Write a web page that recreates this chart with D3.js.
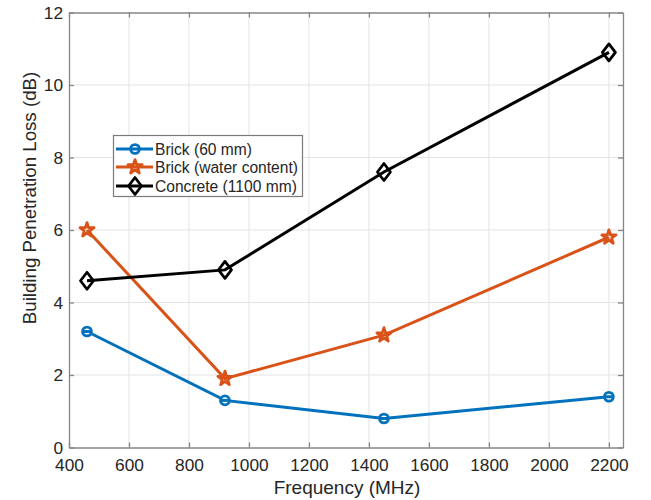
<!DOCTYPE html>
<html>
<head>
<meta charset="utf-8">
<script src="https://cdn.jsdelivr.net/npm/d3@7"></script>
<style>
  html, body { margin: 0; padding: 0; background: #fff; }
  svg { display: block; font-family: "Liberation Sans", Arial, sans-serif; }
</style>
</head>
<body>
<svg id="chart" width="651" height="500"></svg>
<script>
// Building penetration loss measured at four frequencies
const frequencies = [460, 920, 1450, 2200];
const brick60 = [3.2, 1.3, 0.8, 1.4];
const brickWater = [6.0, 1.9, 3.1, 5.8];
const concrete = [4.6, 4.9, 7.6, 10.9];
const seriesNames = ["Brick (60 mm)", "Brick (water content)", "Concrete (1100 mm)"];
const xTicks = [400, 600, 800, 1000, 1200, 1400, 1600, 1800, 2000, 2200];
const yTicks = [0, 2, 4, 6, 8, 10, 12];

const series = [
  { name: seriesNames[0], values: brick60, color: "#0072BD", marker: "circle" },
  { name: seriesNames[1], values: brickWater, color: "#D95319", marker: "star" },
  { name: seriesNames[2], values: concrete, color: "#000000", marker: "diamond" }
];

const svg = d3.select("#chart");
const plot = { left: 69, right: 623, top: 12.5, bottom: 447.5 };

const x = d3.scaleLinear().domain([400, 2247]).range([plot.left, plot.right]);
const y = d3.scaleLinear().domain([0, 12]).range([plot.bottom, plot.top]);

const axisColor = "#868686";
const textColor = "#262626";

// grid
const grid = svg.append("g");
grid.selectAll(".gx").data(xTicks.slice(1)).enter().append("line")
  .attr("x1", d => x(d)).attr("x2", d => x(d))
  .attr("y1", plot.top).attr("y2", plot.bottom)
  .attr("stroke", "#e3e3e3").attr("stroke-width", 1);
grid.selectAll(".gy").data(yTicks.slice(1, -1)).enter().append("line")
  .attr("x1", plot.left).attr("x2", plot.right)
  .attr("y1", d => y(d)).attr("y2", d => y(d))
  .attr("stroke", "#e3e3e3").attr("stroke-width", 1);

// axes (ticks point inward, box drawn on all four sides)
const fmt = d3.format("d");
const xAxis = d3.axisBottom(x).tickValues(xTicks).tickFormat(fmt).tickSizeInner(-5).tickSizeOuter(0).tickPadding(11);
const yAxis = d3.axisLeft(y).tickValues(yTicks).tickFormat(fmt).tickSizeInner(-5).tickSizeOuter(0).tickPadding(6);
const xTop = d3.axisTop(x).tickValues(xTicks).tickSizeInner(-5).tickSizeOuter(0).tickFormat("");
const yRight = d3.axisRight(y).tickValues(yTicks).tickSizeInner(-5).tickSizeOuter(0).tickFormat("");

function styleAxis(g) {
  g.select(".domain").attr("stroke", axisColor).attr("stroke-width", 1.3);
  g.selectAll(".tick line").attr("stroke", axisColor).attr("stroke-width", 1.3);
  g.selectAll(".tick text").attr("fill", textColor).style("font-size", "17.3px")
    .style("font-family", "Liberation Sans, Arial, sans-serif");
}

svg.append("g").attr("transform", `translate(0,${plot.bottom})`).call(xAxis).call(styleAxis);
svg.append("g").attr("transform", `translate(${plot.left},0)`).call(yAxis).call(styleAxis);
svg.append("g").attr("transform", `translate(0,${plot.top})`).call(xTop).call(styleAxis);
svg.append("g").attr("transform", `translate(${plot.right},0)`).call(yRight).call(styleAxis);

// axis labels
svg.append("text")
  .attr("x", 347).attr("y", 494)
  .attr("text-anchor", "middle").attr("fill", textColor)
  .style("font-size", "19px").text("Frequency (MHz)");
svg.append("text")
  .attr("transform", "translate(36,198) rotate(-90)")
  .attr("text-anchor", "middle").attr("fill", textColor)
  .style("font-size", "18.7px").text("Building Penetration Loss (dB)");

// marker shapes
function markerPath(type) {
  if (type === "circle") {
    return d3.symbol().type(d3.symbolCircle).size(62)();
  } else if (type === "star") {
    return d3.symbol().type(d3.symbolStar).size(62)();
  } else {
    const w = 6.5, h = 8.5;
    return `M0,${-h}L${w},0L0,${h}L${-w},0Z`;
  }
}

function drawMarker(g, type, color, cx, cy) {
  const m = g.append("path")
    .attr("d", markerPath(type))
    .attr("transform", `translate(${cx},${cy})`)
    .attr("fill", "none")
    .attr("stroke", color)
    .attr("stroke-width", 2.8)
    .attr("stroke-linejoin", "round");
  if (type === "circle") {
    m.attr("fill", "#fff");
  }
}

const line = d3.line().x(d => x(d[0])).y(d => y(d[1]));

series.forEach(s => {
  const pts = frequencies.map((f, i) => [f, s.values[i]]);
  const g = svg.append("g");
  g.append("path").datum(pts)
    .attr("d", line)
    .attr("fill", "none")
    .attr("stroke", s.color)
    .attr("stroke-width", 3);
  pts.forEach(p => drawMarker(g, s.marker, s.color, x(p[0]), y(p[1])));
  if (s.marker === "circle") {
    // line passes through the open circle
    pts.forEach(p => {
      g.append("line")
        .attr("x1", x(p[0]) - 4.4).attr("x2", x(p[0]) + 4.4)
        .attr("y1", y(p[1])).attr("y2", y(p[1]))
        .attr("stroke", s.color).attr("stroke-width", 3);
    });
  }
});

// legend
const legend = svg.append("g");
legend.append("rect")
  .attr("x", 113.5).attr("y", 135.5).attr("width", 189).attr("height", 61)
  .attr("fill", "#fff").attr("stroke", "#7a7a7a").attr("stroke-width", 1.2);
const rowY = [149, 167, 186];
series.forEach((s, i) => {
  const ly = rowY[i];
  legend.append("line")
    .attr("x1", 116).attr("x2", 153).attr("y1", ly).attr("y2", ly)
    .attr("stroke", s.color).attr("stroke-width", 3);
  drawMarker(legend, s.marker, s.color, 135, ly);
  if (s.marker === "circle") {
    legend.append("line")
      .attr("x1", 130.6).attr("x2", 139.4).attr("y1", ly).attr("y2", ly)
      .attr("stroke", s.color).attr("stroke-width", 3);
  }
  legend.append("text")
    .attr("x", 155).attr("y", ly + 5.5)
    .attr("fill", textColor)
    .style("font-size", "15.6px")
    .text(s.name);
});
</script>
</body>
</html>
